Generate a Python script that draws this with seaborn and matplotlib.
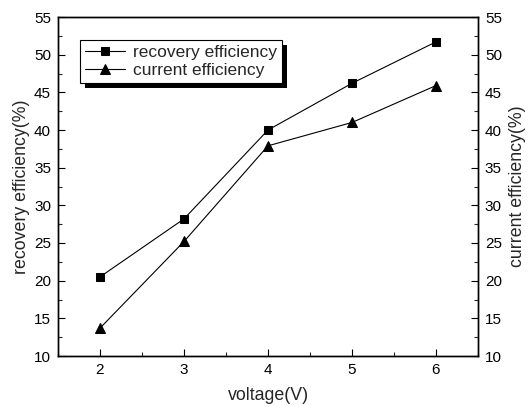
import matplotlib
matplotlib.use("Agg")
import matplotlib.pyplot as plt
import matplotlib.patheffects as pe
from matplotlib.ticker import MultipleLocator
import seaborn as sns
import pandas as pd

voltage = [2, 3, 4, 5, 6]
recovery = [20.5, 28.2, 40.0, 46.2, 51.7]
current = [13.7, 25.2, 37.9, 41.0, 45.9]

sns.set_theme(style="ticks")
plt.rcParams['font.family'] = ['Liberation Sans', 'DejaVu Sans']
plt.rcParams['xtick.direction'] = 'in'
plt.rcParams['ytick.direction'] = 'in'

df = pd.DataFrame({"voltage": voltage, "recovery": recovery, "current": current})

fig = plt.figure(figsize=(5.28, 4.07), dpi=100)
ax = fig.add_axes([58/528, 1-356/407, 420/528, 339/407])

sns.lineplot(data=df, x="voltage", y="recovery", ax=ax, color="black", lw=0.8,
             marker="s", markersize=5.5, markeredgecolor="black", label="recovery efficiency")
sns.lineplot(data=df, x="voltage", y="current", ax=ax, color="black", lw=0.8,
             marker="^", markersize=7, markeredgecolor="black", label="current efficiency")

ax.set_xlim(1.5, 6.5)
ax.set_ylim(10, 55)
ax.xaxis.set_major_locator(MultipleLocator(1))
ax.xaxis.set_minor_locator(MultipleLocator(0.5))
ax.yaxis.set_major_locator(MultipleLocator(5))
ax.yaxis.set_minor_locator(MultipleLocator(2.5))
ax.tick_params(which='major', length=5, width=0.8, labelsize=11, colors='black', pad=5)
ax.tick_params(which='minor', length=3, width=0.8)
ax.tick_params(axis='y', right=False)
for s in ax.spines.values():
    s.set_linewidth(1.0)
    s.set_color('black')
ax.set_xlabel("voltage(V)", fontsize=12.8, labelpad=7)
ax.set_ylabel("recovery efficiency(%)", fontsize=12.8, labelpad=3)

ax2 = ax.twinx()
ax2.set_ylim(10, 55)
ax2.yaxis.set_major_locator(MultipleLocator(5))
ax2.yaxis.set_minor_locator(MultipleLocator(2.5))
ax2.tick_params(which='major', length=5, width=0.8, labelsize=11, colors='black', pad=5, direction='in')
ax2.tick_params(which='minor', length=3, width=0.8, direction='in')
ax2.set_ylabel("current efficiency(%)", fontsize=12.8, labelpad=5)
for s in ax2.spines.values():
    s.set_linewidth(1.0)
    s.set_color('black')

leg = ax.legend(loc='upper left', bbox_to_anchor=(0.052, 0.932), borderaxespad=0,
                fontsize=12.5, handlelength=2.3, frameon=True, fancybox=False,
                edgecolor='black', framealpha=1, borderpad=0.3, labelspacing=0.15,
                handletextpad=0.45)
leg.get_frame().set_linewidth(0.8)
leg.legendPatch.set_path_effects([
    pe.SimplePatchShadow(offset=(3.6, -3.6), shadow_rgbFace='black', alpha=1.0),
    pe.Normal()])

fig.savefig("out.png", dpi=100)
